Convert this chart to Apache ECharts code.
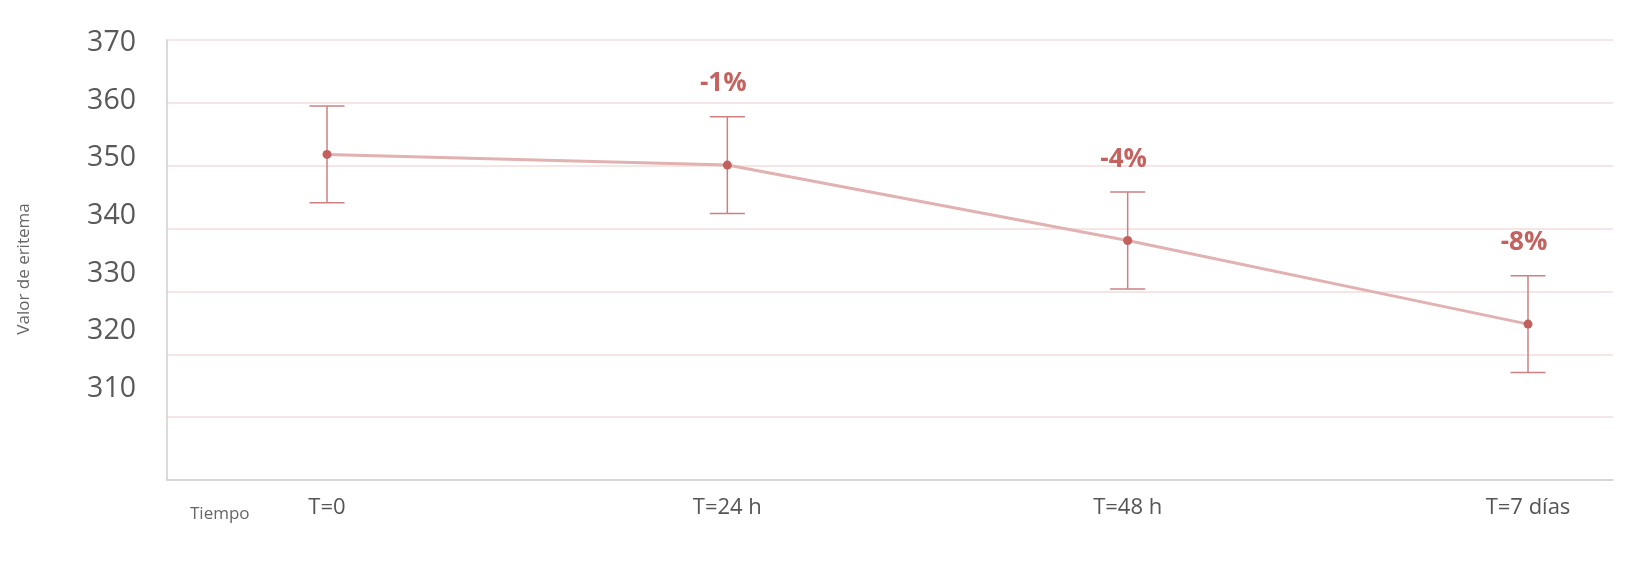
<!DOCTYPE html>
<html>
<head>
<meta charset="utf-8">
<script src="https://cdn.jsdelivr.net/npm/echarts@6/dist/echarts.min.js"></script>
<style>
html,body{margin:0;padding:0;background:#fff;}
#c{width:1640px;height:564px;}
</style>
</head>
<body>
<div id="c"></div>
<script>
const categories = ['T=0', 'T=24 h', 'T=48 h', 'T=7 días'];
const values = [351.8, 350.1, 338.1, 324.8];
const errors = [7.7, 7.7, 7.7, 7.7];
const changeLabels = ['', '-1%', '-4%', '-8%'];
const yTicks = { min: 300, max: 370, step: 10 };
const yLabelTicks = { min: 310, max: 370, step: 10 };

const FONT = '"Open Sans", Lato, sans-serif';
const errData = values.map((v, i) => [i, v - errors[i], v + errors[i], changeLabels[i]]);

const chart = echarts.init(document.getElementById('c'), null, { renderer: 'canvas' });
chart.setOption({
  animation: false,
  backgroundColor: '#fff',
  grid: [
    { left: 167, right: 27, top: 40, bottom: 84 },        // frame + gridlines
    { left: 167, right: 27, top: 42.7, bottom: 175 },     // y tick labels
    { left: 327, right: 112, top: 40, bottom: 84 }        // data
  ],
  xAxis: [
    { gridIndex: 0, type: 'value', min: 0, max: 1, axisLabel: { show: false }, axisTick: { show: false },
      splitLine: { show: false }, axisLine: { show: true, lineStyle: { color: '#cfcfcf', width: 1.5 } } },
    { gridIndex: 1, type: 'value', show: false },
    { gridIndex: 2, type: 'category', data: categories, boundaryGap: false,
      axisLine: { show: false }, axisTick: { show: false },
      axisLabel: { color: '#555', fontSize: 22, fontFamily: FONT, margin: 17 } }
  ],
  yAxis: [
    { gridIndex: 0, type: 'value', min: yTicks.min, max: yTicks.max, interval: yTicks.step,
      axisLabel: { show: false }, axisTick: { show: false },
      axisLine: { show: true, lineStyle: { color: '#cfcfcf', width: 1.5 } },
      splitLine: { show: true, lineStyle: { color: '#f3dcdc', width: 1.5 } } },
    { gridIndex: 1, type: 'value', min: yLabelTicks.min, max: yLabelTicks.max, interval: yLabelTicks.step,
      axisLine: { show: false }, axisTick: { show: false }, splitLine: { show: false },
      axisLabel: { color: '#595959', fontSize: 28.5, fontFamily: FONT, margin: 31 } },
    { gridIndex: 2, type: 'value', min: yTicks.min, max: yTicks.max, show: false }
  ],
  graphic: [
    { type: 'text', x: 24, y: 269, rotation: Math.PI / 2,
      style: { text: 'Valor de eritema', fill: '#666', fontSize: 17, fontFamily: FONT,
               align: 'center', verticalAlign: 'middle' } },
    { type: 'text', x: 190, y: 514,
      style: { text: 'Tiempo', fill: '#666', fontSize: 17, fontFamily: FONT,
               align: 'left', verticalAlign: 'middle' } }
  ],
  series: [
    {
      type: 'custom', xAxisIndex: 2, yAxisIndex: 2, data: errData, z: 2,
      renderItem: function (params, api) {
        const x = api.value(0);
        const lo = api.coord([x, api.value(1)]);
        const hi = api.coord([x, api.value(2)]);
        const hw = 17.5;
        const ls = { stroke: '#cd8080', lineWidth: 1.5 };
        const children = [
          { type: 'line', shape: { x1: hi[0], y1: hi[1], x2: lo[0], y2: lo[1] }, style: ls },
          { type: 'line', shape: { x1: hi[0] - hw, y1: hi[1], x2: hi[0] + hw, y2: hi[1] }, style: ls },
          { type: 'line', shape: { x1: lo[0] - hw, y1: lo[1], x2: lo[0] + hw, y2: lo[1] }, style: ls }
        ];
        const lbl = changeLabels[params.dataIndex];
        if (lbl) {
          children.push({ type: 'text', x: hi[0] - 4, y: hi[1] - 33,
            style: { text: lbl, fill: '#c4625f', fontSize: 26, fontWeight: 'bold', fontFamily: FONT,
                     align: 'center', verticalAlign: 'middle' } });
        }
        return { type: 'group', children: children };
      }
    },
    {
      type: 'line', xAxisIndex: 2, yAxisIndex: 2, data: values, z: 3,
      symbol: 'circle', symbolSize: 9,
      lineStyle: { color: '#e2b1b1', width: 3 },
      itemStyle: { color: '#c2605e' }
    }
  ]
});
</script>
</body>
</html>
